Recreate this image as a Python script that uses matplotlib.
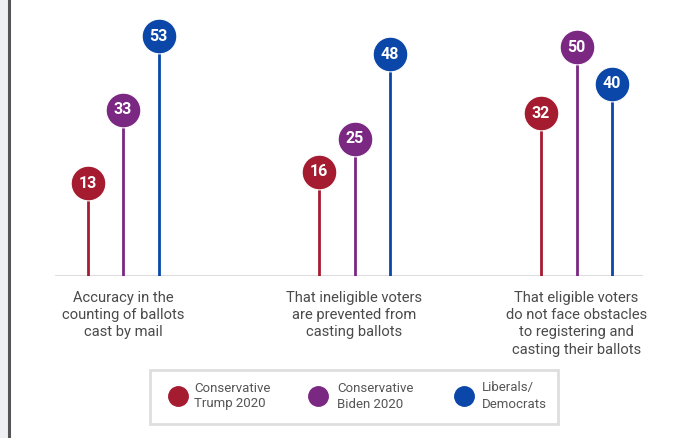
import numpy as np
import matplotlib.pyplot as plt
from matplotlib.patches import Rectangle
from matplotlib.lines import Line2D

plt.rcParams['font.family'] = ['Roboto', 'DejaVu Sans']

categories = ['Accuracy in the\ncounting of ballots\ncast by mail',
              'That ineligible voters\nare prevented from\ncasting ballots',
              'That eligible voters\ndo not face obstacles\nto registering and\ncasting their ballots']
series = ['Conservative\nTrump 2020', 'Conservative\nBiden 2020', 'Liberals/\nDemocrats']
trump = [13, 16, 32]
biden = [33, 25, 50]
libs = [53, 48, 40]
colors = ['#A51C30', '#7A2882', '#0A47A9']

# group centres (axes x units = pixels), groups are not evenly spaced
centres = np.array([123, 354.5, 576.5])
offs = [-35.5, 0, 35.5]

fig = plt.figure(figsize=(6.95, 4.38), dpi=100)
fig.patch.set_facecolor('white')
# left page edge
fig.patches.append(Rectangle((0, 0), 8 / 695, 1, transform=fig.transFigure,
                             facecolor='#eef0f4', edgecolor='none', zorder=0))
fig.add_artist(Line2D([9 / 695, 9 / 695], [0, 1], transform=fig.transFigure,
                      color='#555555', lw=2.2))

ax = fig.add_axes([55 / 695, 162 / 438, 588 / 695, 276 / 438])
ymin, ymax = -12.3, 62.8
ax.set_xlim(55, 643)
ax.set_ylim(ymin, ymax)
ax.axis('off')
ax.axhline(ymin, color='#dddddd', lw=1.5)

for vals, off, c in zip([trump, biden, libs], offs, colors):
    xs = centres + off
    ax.vlines(xs, ymin, vals, color=c, lw=2, zorder=2)
    ax.plot(xs, vals, 'o', ms=25, color=c, mec='white', mew=0.8, zorder=3)
    for xi, v in zip(xs, vals):
        ax.text(xi, v, str(v), ha='center', va='center', color='white',
                fontsize=11.5, fontweight='bold', zorder=4)

for xi, lab in zip(centres, categories):
    ax.text(xi, ymin - 4.0, lab, ha='center', va='top', fontsize=10.6,
            color='#4a4a4a', linespacing=1.3)

# legend box
fig.patches.append(Rectangle((150 / 695, 14 / 438), 408 / 695, 54 / 438,
                             transform=fig.transFigure, facecolor='white',
                             edgecolor='#dedede', lw=2, zorder=1))
lx = [178, 318, 464]
tx = [194, 337, 482]
for c, name, cx, t in zip(colors, series, lx, tx):
    fig.add_artist(Line2D([cx / 695], [42 / 438], marker='o', ms=14, color=c,
                          transform=fig.transFigure, ls='none'))
    fig.text(t / 695, 42 / 438, name, ha='left', va='center', fontsize=9.5,
             color='#555555', linespacing=1.3)

fig.savefig('out.png', dpi=100)
